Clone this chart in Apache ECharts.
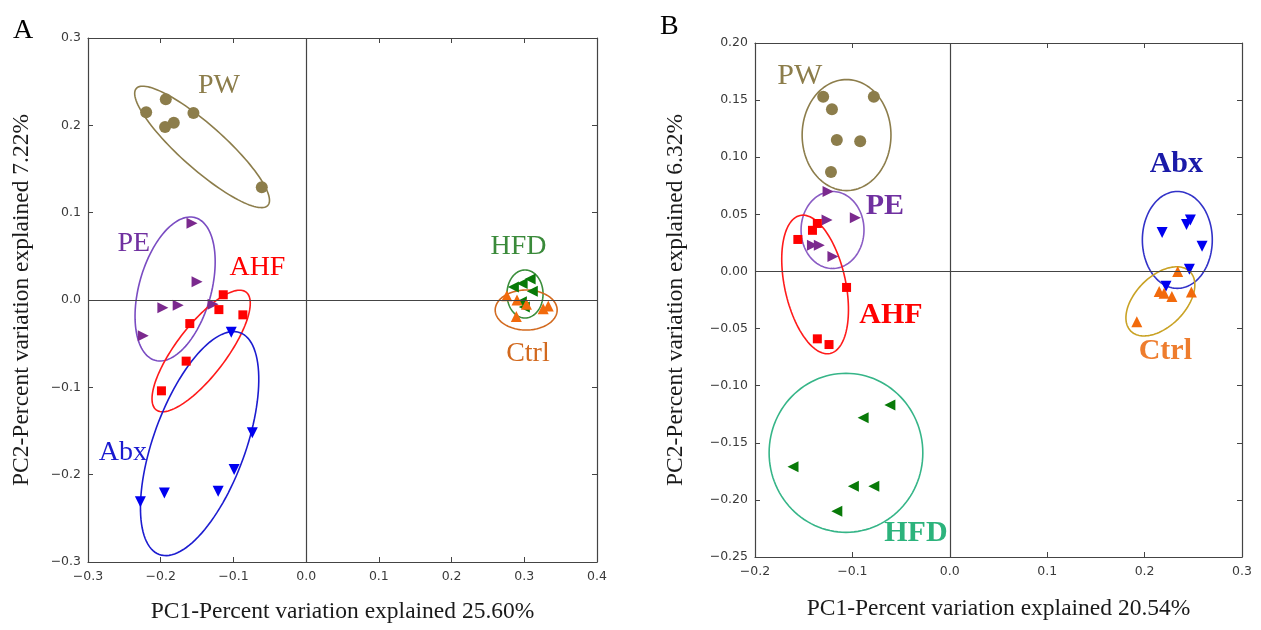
<!DOCTYPE html>
<html>
<head>
<meta charset="utf-8">
<script src="https://cdn.jsdelivr.net/npm/echarts@6/dist/echarts.min.js"></script>
<style>
  html, body { margin: 0; padding: 0; background: #fff; }
  #chart { width: 1261px; height: 630px; }
</style>
</head>
<body>
<div id="chart"></div>
<script>
// ---- 数据: 面板 A ----
const groups = ['PW', 'PE', 'AHF', 'Abx', 'HFD', 'Ctrl']
const pwA = [[-0.220, 0.215], [-0.193, 0.230], [-0.194, 0.198], [-0.182, 0.203], [-0.155, 0.214], [-0.061, 0.129]]
const peA = [[-0.157, 0.088], [-0.150, 0.021], [-0.197, -0.009], [-0.176, -0.006], [-0.128, -0.005], [-0.224, -0.041]]
const ahfA = [[-0.114, 0.006], [-0.120, -0.011], [-0.087, -0.017], [-0.160, -0.027], [-0.165, -0.070], [-0.199, -0.104]]
const abxA = [[-0.103, -0.037], [-0.074, -0.152], [-0.099, -0.194], [-0.121, -0.219], [-0.195, -0.221], [-0.228, -0.231]]
const hfdA = [[0.285, 0.015], [0.297, 0.019], [0.308, 0.024], [0.311, 0.010], [0.296, -0.002], [0.300, -0.008]]
const ctrlA = [[0.276, 0.005], [0.290, 0.000], [0.289, -0.019], [0.326, -0.010], [0.333, -0.007], [0.303, -0.005]]
// 置信椭圆: 中心 cx, cy, 半长轴向量 ax, ay, 半短轴向量 bx, by
const ellipsesA = [
  [-0.1431, 0.1753, 0.0905, -0.0669, -0.0201, -0.0189],
  [-0.1802, 0.0126, 0.0276, 0.0817, 0.0477, -0.0112],
  [-0.1444, -0.0584, 0.0618, 0.0674, 0.0273, -0.0174],
  [-0.1465, -0.1644, 0.0555, 0.1270, 0.0595, -0.0180],
  [0.301, 0.0069, 0, 0.0275, 0.0248, 0],
  [0.3026, -0.0115, 0.0426, 0, 0, 0.0229]
]
const labelPosA = [[-0.120, 0.246], [-0.237, 0.065], [-0.067, 0.037], [-0.252, -0.175], [0.292, 0.061], [0.305, -0.061]]

// ---- 数据: 面板 B ----
const pwB = [[-0.130, 0.153], [-0.078, 0.153], [-0.121, 0.142], [-0.116, 0.115], [-0.092, 0.114], [-0.122, 0.087]]
const peB = [[-0.125, 0.070], [-0.126, 0.045], [-0.097, 0.047], [-0.141, 0.023], [-0.134, 0.023], [-0.120, 0.013]]
const ahfB = [[-0.156, 0.028], [-0.141, 0.036], [-0.136, 0.042], [-0.106, -0.014], [-0.136, -0.059], [-0.124, -0.064]]
const abxB = [[0.218, 0.034], [0.243, 0.041], [0.247, 0.045], [0.259, 0.022], [0.246, 0.002], [0.222, -0.013]]
const hfdB = [[-0.0615, -0.117], [-0.089, -0.128], [-0.161, -0.171], [-0.099, -0.188], [-0.078, -0.188], [-0.116, -0.210]]
const ctrlB = [[0.234, 0.000], [0.215, -0.0175], [0.220, -0.019], [0.228, -0.022], [0.248, -0.018], [0.192, -0.044]]
const ellipsesB = [
  [-0.1060, 0.1194, 0, 0.0486, 0.0456, 0],
  [-0.1204, 0.0363, 0, 0.0337, 0.0323, 0],
  [-0.1383, -0.0114, 0.0154, -0.0604, -0.0306, -0.0057],
  [0.2336, 0.0276, 0, 0.0424, 0.0359, 0],
  [-0.1066, -0.1588, 0, 0.0696, 0.0789, 0],
  [0.2162, -0.0262, 0.0304, 0.0260, 0.0181, -0.0155]
]
const labelPosB = [[-0.154, 0.171], [-0.0666, 0.0569], [-0.0605, -0.0385], [0.2326, 0.0936], [-0.0348, -0.229], [0.2213, -0.070]]

// 轴刻度
const xTicksA = { min: -0.3, max: 0.4, interval: 0.1 }
const yTicksA = { min: -0.3, max: 0.3, interval: 0.1 }
const xTicksB = { min: -0.2, max: 0.3, interval: 0.1 }
const yTicksB = { min: -0.25, max: 0.2, interval: 0.05 }

// 颜色
const markerColors = ['#8c7d4b', '#7b2a8e', '#ff0000', '#0000f0', '#087a08', '#f26a0c']
const ellipseColorsA = ['#8c7d4b', '#7a4cc2', '#ff1a1a', '#1c1cd0', '#3c8f3c', '#d2691e']
const ellipseColorsB = ['#8c7d4b', '#8a5cc4', '#ff1a1a', '#3232c8', '#36b588', '#c9a224']
const labelColorsA = ['#8c7d4b', '#7030a0', '#ff0000', '#1a1ad0', '#3a8a3a', '#d2691e']
const labelColorsB = ['#8c7d4b', '#7030a0', '#ff0000', '#1a1aa8', '#2cb37c', '#ee7d2e']

const symbols = [
  { symbol: 'circle', size: 12, rotate: 0 },
  { symbol: 'triangle', size: 11, rotate: -90 },
  { symbol: 'rect', size: 9, rotate: 0 },
  { symbol: 'triangle', size: 11, rotate: 180 },
  { symbol: 'triangle', size: 11, rotate: 90 },
  { symbol: 'triangle', size: 11, rotate: 0 }
]

const fmt = (d) => (v) => v.toFixed(d).replace('-', '\u2212')
const tickFont = { fontFamily: 'DejaVu Sans', fontSize: 12.5, color: '#3a3a3a' }
const nameFont = { fontFamily: 'Liberation Serif', fontSize: 23.5, color: '#1a1a1a' }
const frame = { show: true, onZero: false, lineStyle: { color: '#444', width: 1.2 } }
const tick = { show: true, inside: true, length: 5, lineStyle: { color: '#444' } }

function makeAxes (grid, t, dec, name, dim, gap) {
  const base = { type: 'value', gridIndex: grid, min: t.min, max: t.max, interval: t.interval,
    splitLine: { show: false }, axisLine: frame, axisTick: tick }
  const first = Object.assign({}, base, {
    position: dim === 'x' ? 'bottom' : 'left',
    name: name, nameLocation: 'middle', nameGap: gap, nameTextStyle: nameFont,
    axisLabel: Object.assign({ formatter: fmt(dec), margin: dim === 'x' ? 8 : 7 }, tickFont)
  })
  const second = Object.assign({}, base, {
    position: dim === 'x' ? 'top' : 'right', axisLabel: { show: false }
  })
  return [first, second]
}

// 画椭圆
function ellipseItem (params, api) {
  const cx = api.value(0), cy = api.value(1)
  const ax = api.value(2), ay = api.value(3), bx = api.value(4), by = api.value(5)
  const pts = []
  for (let i = 0; i < 120; i++) {
    const t = i / 120 * Math.PI * 2
    pts.push(api.coord([cx + ax * Math.cos(t) + bx * Math.sin(t), cy + ay * Math.cos(t) + by * Math.sin(t)]))
  }
  return { type: 'polygon', shape: { points: pts }, style: { fill: 'none', stroke: api.visual('color'), lineWidth: 1.6 } }
}

function buildPanel (idx, points, ellipses, ellColors, labelPos, labelColors, bold, fontSize) {
  const out = []
  ellipses.forEach((e, i) => {
    out.push({ type: 'custom', xAxisIndex: idx * 2, yAxisIndex: idx * 2, renderItem: ellipseItem,
      data: [e], itemStyle: { color: ellColors[i] }, z: 2, silent: true })
  })
  points.forEach((p, i) => {
    const s = {
      type: 'scatter', name: groups[i], xAxisIndex: idx * 2, yAxisIndex: idx * 2, data: p,
      symbol: symbols[i].symbol, symbolSize: symbols[i].size, symbolRotate: symbols[i].rotate,
      itemStyle: { color: markerColors[i], opacity: 1 }, z: 3, silent: true
    }
    if (i === 0) {
      // 零线
      s.markLine = { silent: true, symbol: ['none', 'none'], label: { show: false },
        lineStyle: { color: '#444', width: 1.2, type: 'solid' },
        data: [{ xAxis: 0 }, { yAxis: 0 }] }
    }
    out.push(s)
  })
  out.push({
    type: 'custom', xAxisIndex: idx * 2, yAxisIndex: idx * 2, data: labelPos, z: 4, silent: true,
    renderItem: (params, api) => {
      const p = api.coord([api.value(0), api.value(1)])
      const i = params.dataIndex
      return { type: 'text', x: p[0], y: p[1], style: {
        text: groups[i], fill: labelColors[i], align: 'center', verticalAlign: 'middle',
        font: ((bold && i !== 0) ? 'bold ' : '') + fontSize + 'px "Liberation Serif"' } }
    }
  })
  return out
}

const chart = echarts.init(document.getElementById('chart'))
const axA = makeAxes(0, xTicksA, 1, 'PC1-Percent variation explained 25.60%', 'x', 38)
const ayA = makeAxes(0, yTicksA, 1, 'PC2-Percent variation explained 7.22%', 'y', 54)
const axB = makeAxes(1, xTicksB, 1, 'PC1-Percent variation explained 20.54%', 'x', 40)
const ayB = makeAxes(1, yTicksB, 2, 'PC2-Percent variation explained 6.32%', 'y', 67)

chart.setOption({
  animation: false,
  backgroundColor: '#fff',
  grid: [
    { left: 88, top: 38, width: 509, height: 524 },
    { left: 755, top: 43, width: 487, height: 514 }
  ],
  title: [
    { text: 'A', left: 8, top: 12, textStyle: { fontFamily: 'Liberation Serif', fontSize: 28, fontWeight: 'normal', color: '#000' } },
    { text: 'B', left: 655, top: 8, textStyle: { fontFamily: 'Liberation Serif', fontSize: 28, fontWeight: 'normal', color: '#000' } }
  ],
  xAxis: [axA[0], axA[1], axB[0], axB[1]],
  yAxis: [ayA[0], ayA[1], ayB[0], ayB[1]],
  series: [].concat(
    buildPanel(0, [pwA, peA, ahfA, abxA, hfdA, ctrlA], ellipsesA, ellipseColorsA, labelPosA, labelColorsA, false, 28),
    buildPanel(1, [pwB, peB, ahfB, abxB, hfdB, ctrlB], ellipsesB, ellipseColorsB, labelPosB, labelColorsB, true, 30)
  )
})
</script>
</body>
</html>
